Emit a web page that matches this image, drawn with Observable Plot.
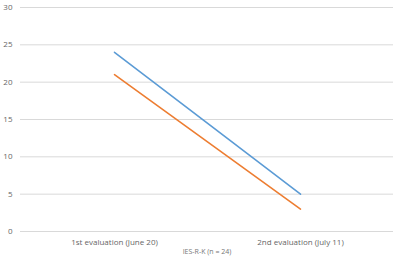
<!DOCTYPE html>
<html>
<head>
<meta charset="utf-8">
<script src="https://cdn.jsdelivr.net/npm/d3@7"></script>
<script src="https://cdn.jsdelivr.net/npm/@observablehq/plot@0.6"></script>
<style>
html, body { margin: 0; padding: 0; background: #fff; }
#chart svg { display: block; }
</style>
</head>
<body>
<div id="chart"></div>
<script>
const categories = ["1st evaluation (June 20)", "2nd evaluation (July 11)"];
const seriesA = [24, 5];
const seriesB = [21, 3];
const yTicks = [0, 5, 10, 15, 20, 25, 30];
const caption = "IES-R-K (n = 24)";

const data = [
  ...categories.map((c, i) => ({cat: c, v: seriesA[i], s: "A"})),
  ...categories.map((c, i) => ({cat: c, v: seriesB[i], s: "B"}))
];

const chart = Plot.plot({
  width: 400,
  height: 257,
  marginLeft: 20,
  marginRight: 7,
  marginTop: 7,
  marginBottom: 26,
  style: {fontFamily: "'Open Sans', sans-serif", fontSize: "8px", color: "#595959", background: "#fff"},
  x: {type: "point", domain: categories, padding: 0.5, label: null},
  y: {domain: [0, 30], ticks: yTicks, label: null},
  color: {domain: ["A", "B"], range: ["#5B9BD5", "#ED7D31"]},
  marks: [
    Plot.gridY(yTicks, {stroke: "#d9d9d9", strokeOpacity: 1, strokeWidth: 1}),
    Plot.axisY(yTicks, {tickSize: 0, tickPadding: 8, fill: "#666", label: null}),
    Plot.axisX({tickSize: 0, tickPadding: 8, fill: "#666", label: null}),
    Plot.line(data, {x: "cat", y: "v", z: "s", stroke: "s", strokeWidth: 1.6}),
    Plot.text([caption], {frameAnchor: "bottom", dy: 22, fill: "#777", fontSize: 7})
  ]
});
document.getElementById("chart").append(chart);
</script>
</body>
</html>
